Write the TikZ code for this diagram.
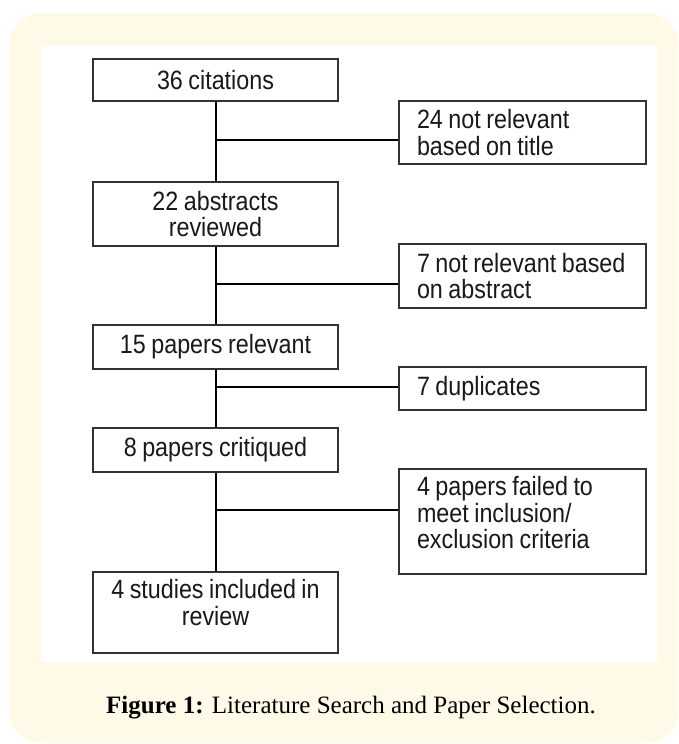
\documentclass[tikz,border=0pt]{standalone}
\usepackage{fontspec}
\newfontfamily\boxfont[FakeStretch=0.88, WordSpace=0.85]{Liberation Sans}
\newfontfamily\capfont{Liberation Serif}
\definecolor{cream}{RGB}{255,250,232}
\definecolor{boxc}{RGB}{50,50,50}
\definecolor{txt}{RGB}{25,25,25}
\tikzset{
  lbox/.style={draw=boxc, line width=1.3pt, minimum width=245pt, inner sep=0pt,
    align=center, text=txt, font=\boxfont\fontsize{26.5}{26.5}\selectfont},
  rbox/.style={draw=boxc, line width=1.3pt, minimum width=247pt, inner xsep=18pt, inner ysep=0pt,
    text width=211pt, align=flush left, text=txt, font=\boxfont\fontsize{26.5}{26.5}\selectfont},
  link/.style={draw=black, line width=2pt}
}
\begin{document}
\begin{tikzpicture}[x=1pt,y=-1pt]
\useasboundingbox (0,0) rectangle (679,744);
\fill[cream, rounded corners=30pt] (10,13) rectangle (678,743);
\fill[white] (41,45) rectangle (657,662);

\node[lbox, minimum height=42pt] (b1) at (215.5,80) {36 citations};
\node[lbox, minimum height=64pt] (b2) at (215.5,214) {22 abstracts\\reviewed};
\node[lbox, minimum height=44pt] (b3) at (215.5,347) {15 papers relevant};
\node[lbox, minimum height=44pt] (b4) at (215.5,450) {8 papers critiqued};
\node[lbox, minimum height=81pt] (b5) at (215.5,612.5) {4 studies included in\\review\\[-6pt]\mbox{}};

\node[rbox, minimum height=63pt] (r1) at (522.5,132.5) {\mbox{24 not relevant}\\\mbox{based on title}};
\node[rbox, minimum height=64pt] (r2) at (522.5,276) {\mbox{7 not relevant based}\\\mbox{on abstract}};
\node[rbox, minimum height=43pt] (r3) at (522.5,388.5) {7 duplicates};
\node[rbox, minimum height=105pt] (r4) at (522.5,521.5) {\mbox{4 papers failed to}\\\mbox{meet inclusion/}\\\mbox{exclusion criteria}\\[-9pt]\mbox{}};

\coordinate (j1) at (216,140);
\coordinate (j2) at (216,284);
\coordinate (j3) at (216,387);
\coordinate (j4) at (216,510);

\draw[link] (b1.south) -- (b2.north);
\draw[link] (b2.south) -- (b3.north);
\draw[link] (b3.south) -- (b4.north);
\draw[link] (b4.south) -- (b5.north);
\draw[link] (j1) -- (j1 -| r1.west);
\draw[link] (j2) -- (j2 -| r2.west);
\draw[link] (j3) -- (j3 -| r3.west);
\draw[link] (j4) -- (j4 -| r4.west);

\node[font=\capfont\fontsize{25}{28}\selectfont, text=black] (cap) at (351,708)
  {\textbf{Figure 1:} Literature Search and Paper Selection.};
\end{tikzpicture}
\end{document}
